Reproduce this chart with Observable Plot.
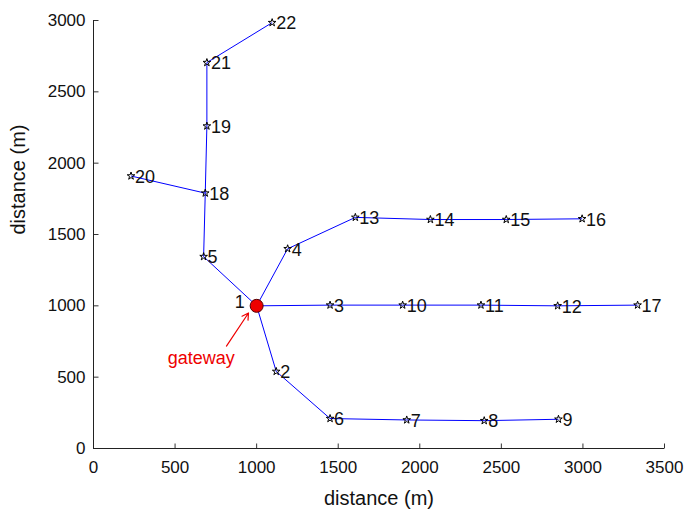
<!DOCTYPE html>
<html>
<head>
<meta charset="utf-8">
<script src="https://cdn.jsdelivr.net/npm/d3@7"></script>
<script src="https://cdn.jsdelivr.net/npm/@observablehq/plot@0.6"></script>
<style>
  html, body { margin: 0; padding: 0; background: #fff; }
  svg { font-family: "Liberation Sans", Arial, sans-serif; }
</style>
</head>
<body>
<div id="chart"></div>
<script>
// Node ids and positions (m)
const nodeId = [1, 2, 3, 4, 5, 6, 7, 8, 9, 10, 11, 12, 13, 14, 15, 16, 17, 18, 19, 20, 21, 22];
const nodeX  = [1000, 1120, 1450, 1190, 675, 1450, 1920, 2395, 2850, 1895, 2375, 2845, 1605, 2065, 2530, 2995, 3335, 685, 695, 230, 695, 1095];
const nodeY  = [1000, 540, 1005, 1400, 1345, 210, 200, 195, 205, 1005, 1005, 1000, 1620, 1605, 1605, 1610, 1005, 1790, 2260, 1910, 2705, 2985];

// Tree edges (node ids)
const edgeFrom = [1, 2, 6, 7, 8, 1, 3, 10, 11, 12, 1, 4, 13, 14, 15, 1, 5, 18, 19, 21, 18];
const edgeTo   = [2, 6, 7, 8, 9, 3, 10, 11, 12, 17, 4, 13, 14, 15, 16, 5, 18, 19, 21, 22, 20];

// Gateway annotation
const gatewayId = 1;
const gatewayLabel = ["gateway"];
const gatewayLabelX = [660];
const gatewayLabelY = [635];
const arrowX1 = [815];
const arrowY1 = [718];
const arrowX2 = [950];
const arrowY2 = [950];

// Axis ticks and titles
const xTicks = [0, 500, 1000, 1500, 2000, 2500, 3000, 3500];
const yTicks = [0, 500, 1000, 1500, 2000, 2500, 3000];
const xTitle = "distance (m)";
const yTitle = "distance (m)";

const nodes = nodeId.map((id, i) => ({id, x: nodeX[i], y: nodeY[i]}));
const byId = new Map(nodes.map(d => [d.id, d]));
const edges = edgeFrom.map((f, i) => ({a: byId.get(f), b: byId.get(edgeTo[i])}));
const sensors = nodes.filter(d => d.id !== gatewayId);
const gateway = nodes.filter(d => d.id === gatewayId);
const annot = gatewayLabel.map((t, i) => ({t, x: gatewayLabelX[i], y: gatewayLabelY[i], x1: arrowX1[i], y1: arrowY1[i], x2: arrowX2[i], y2: arrowY2[i]}));

// inward tick symbols
const tickUp = {draw(context) { context.moveTo(0, 0); context.lineTo(0, -5); }};
const tickRight = {draw(context) { context.moveTo(0, 0); context.lineTo(5, 0); }};

const chart = Plot.plot({
  width: 686,
  height: 512,
  marginLeft: 93,
  marginRight: 22,
  marginTop: 20,
  marginBottom: 64,
  style: {fontFamily: '"Liberation Sans", Arial, sans-serif', background: "#fff"},
  x: {domain: [0, 3500]},
  y: {domain: [0, 3000]},
  marks: [
    // tick labels
    Plot.axisX({ticks: xTicks, tickSize: 0, tickPadding: 12, label: null, fontSize: 17, fill: "#111", tickFormat: d => String(d)}),
    Plot.axisY({ticks: yTicks, tickSize: 0, tickPadding: 8, label: null, fontSize: 17, fill: "#111", tickFormat: d => String(d)}),
    // inward ticks
    Plot.dot(xTicks, {x: d => d, y: 0, symbol: tickUp, r: 3, stroke: "#333", fill: "none", strokeWidth: 1}),
    Plot.dot(yTicks, {x: 0, y: d => d, symbol: tickRight, r: 3, stroke: "#333", fill: "none", strokeWidth: 1}),
    Plot.ruleX([0], {stroke: "#222"}),
    Plot.ruleY([0], {stroke: "#222"}),
    // edges
    Plot.link(edges, {x1: d => d.a.x, y1: d => d.a.y, x2: d => d.b.x, y2: d => d.b.y, stroke: "#0000ff", strokeWidth: 1}),
    // sensor markers
    Plot.dot(sensors, {x: "x", y: "y", symbol: "star", r: 2.4, stroke: "#000", fill: "none", strokeWidth: 1}),
    // labels
    Plot.text(sensors, {x: "x", y: "y", text: d => String(d.id), textAnchor: "start", dx: 4, dy: 1, fontSize: 18, fill: "#111"}),
    Plot.text(gateway, {x: "x", y: "y", text: d => String(d.id), textAnchor: "end", dx: -12, dy: -4, fontSize: 18, fill: "#111"}),
    // gateway
    Plot.dot(gateway, {x: "x", y: "y", r: 6.5, fill: "#ee0000", stroke: "#550000", strokeWidth: 1}),
    // annotation
    Plot.arrow(annot, {x1: "x1", y1: "y1", x2: "x2", y2: "y2", stroke: "#ee0000", strokeWidth: 1.2, headLength: 9, insetEnd: 0}),
    Plot.text(annot, {x: "x", y: "y", text: "t", fill: "#ee0000", fontSize: 18}),
    // axis titles
    Plot.text([xTitle], {frameAnchor: "bottom", dy: 56, fontSize: 20, fill: "#111"}),
    Plot.text([yTitle], {frameAnchor: "left", dx: -75, rotate: -90, fontSize: 20, fill: "#111"})
  ]
});
document.getElementById("chart").appendChild(chart);
</script>
</body>
</html>
